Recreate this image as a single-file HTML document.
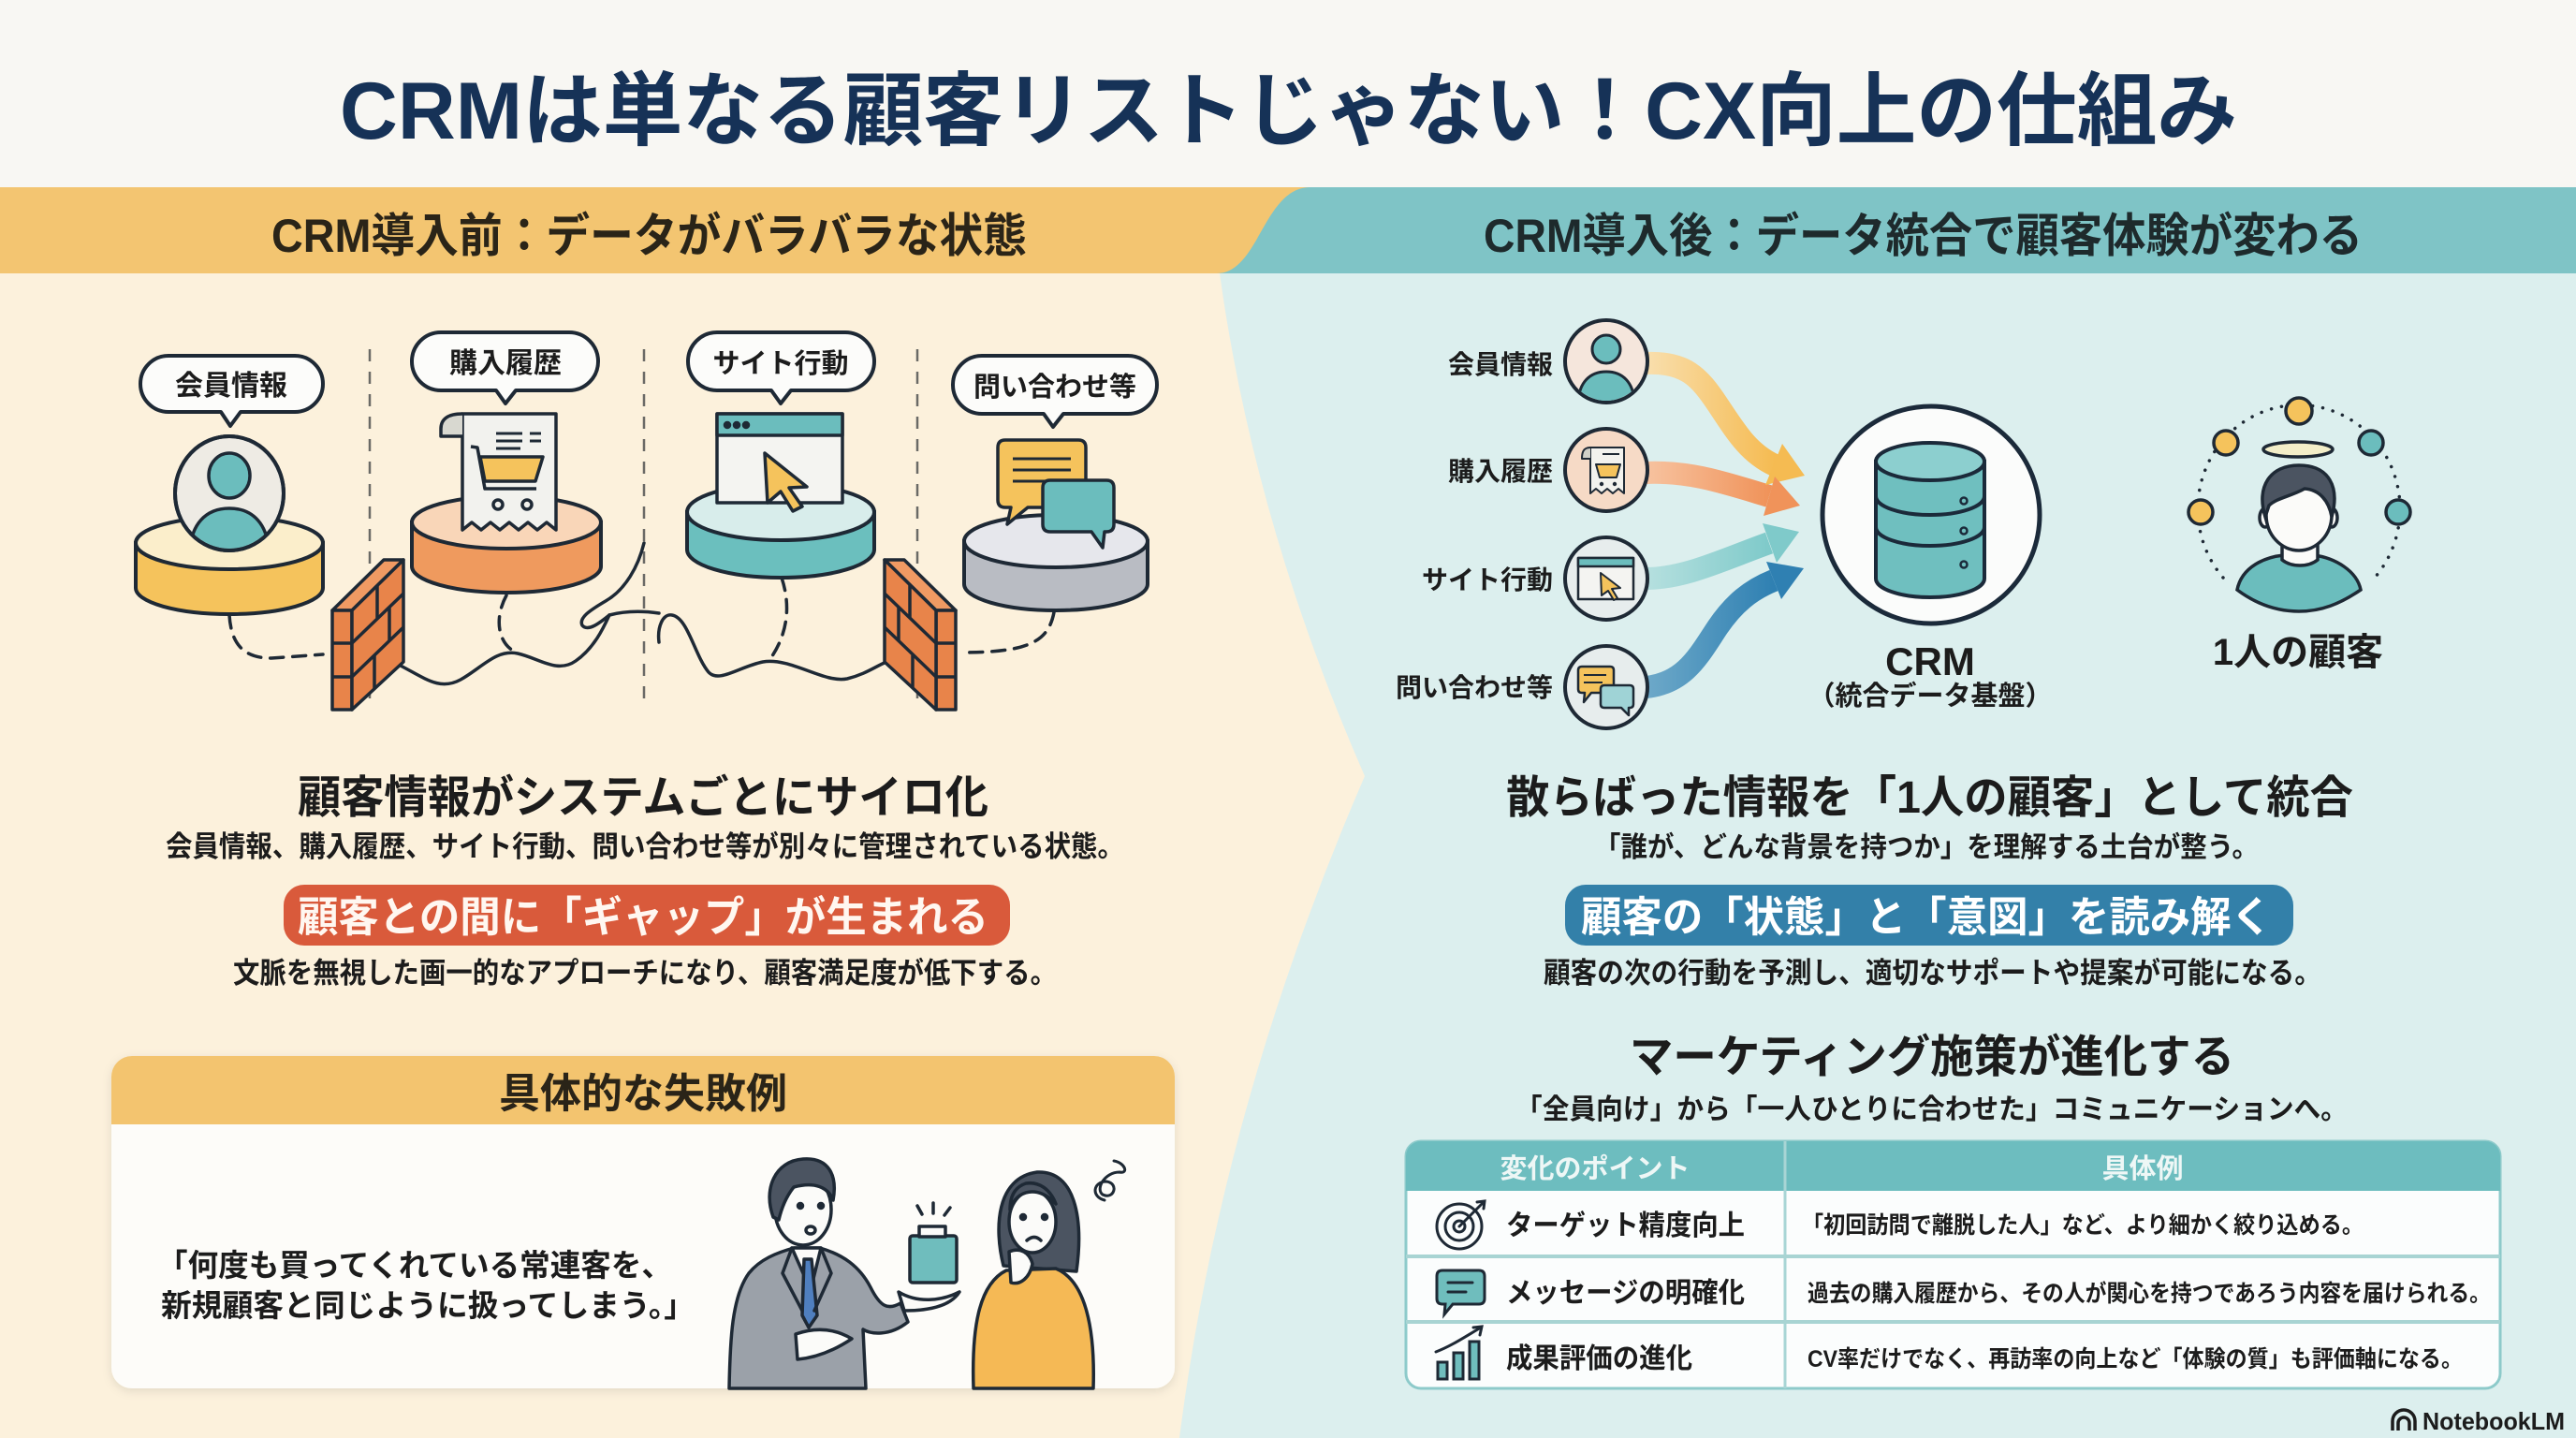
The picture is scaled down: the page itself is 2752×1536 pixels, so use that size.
<!DOCTYPE html>
<html><head><meta charset="utf-8">
<style>
html,body{margin:0;padding:0;width:2752px;height:1536px;overflow:hidden;background:#f8f7f3}
svg{display:block}
text{font-family:"Liberation Sans","Noto Sans CJK JP",sans-serif;font-weight:700;fill:#1c1c1c}
</style></head><body>
<svg width="2752" height="1536" viewBox="0 0 2752 1536" xmlns="http://www.w3.org/2000/svg">
<defs>
 <linearGradient id="gY" x1="0" x2="1" y1="0" y2="0"><stop offset="0" stop-color="#f9dfae"/><stop offset="1" stop-color="#f5bb52"/></linearGradient>
 <linearGradient id="gO" x1="0" x2="1" y1="0" y2="0"><stop offset="0" stop-color="#f7c3a0"/><stop offset="1" stop-color="#f0935a"/></linearGradient>
 <linearGradient id="gT" x1="0" x2="1" y1="0" y2="0"><stop offset="0" stop-color="#b6e0df"/><stop offset="1" stop-color="#7fcaca"/></linearGradient>
 <linearGradient id="gB" x1="0" x2="1" y1="0" y2="0"><stop offset="0" stop-color="#6ea9c9"/><stop offset="1" stop-color="#2f80b2"/></linearGradient>
 <clipPath id="c1"><circle cx="1716" cy="386" r="42"/></clipPath>
 <clipPath id="ava"><ellipse cx="245" cy="527" rx="56" ry="59"/></clipPath>
 <filter id="sh" x="-10%" y="-10%" width="120%" height="130%"><feDropShadow dx="0" dy="3" stdDeviation="5" flood-color="#000" flood-opacity="0.10"/></filter>
</defs>

<!-- backgrounds -->
<rect width="2752" height="1536" fill="#f8f7f3"/>
<rect x="0" y="292" width="2752" height="1244" fill="#dcefee"/>
<path d="M0,292 H1303 Q1340,560 1458,829 Q1305,1182 1260,1536 H0 Z" fill="#fcf1dc"/>
<rect x="0" y="200" width="2752" height="92" fill="#7fc4c6"/>
<path d="M0,200 H1400 C1350,200 1345,292 1300,292 H0 Z" fill="#f3c571"/>

<!-- title -->
<text x="363" y="148" font-size="86" textLength="2027" lengthAdjust="spacingAndGlyphs" style="fill:#163257">CRMは単なる顧客リストじゃない！CX向上の仕組み</text>
<text x="290" y="269" font-size="50" textLength="807" lengthAdjust="spacingAndGlyphs" style="fill:#2a2418">CRM導入前：データがバラバラな状態</text>
<text x="1585" y="269" font-size="50" textLength="939" lengthAdjust="spacingAndGlyphs" style="fill:#1e2a2c">CRM導入後：データ統合で顧客体験が変わる</text>

<!-- LEFT: dividers -->
<g stroke="#6a6a66" stroke-width="2.5" stroke-dasharray="13 11">
 <line x1="395" y1="373" x2="395" y2="757"/>
 <line x1="688" y1="373" x2="688" y2="757"/>
 <line x1="980" y1="373" x2="980" y2="757"/>
</g>

<!-- bubbles -->
<g fill="#fcfcfa" stroke="#1e2935" stroke-width="4" stroke-linejoin="round">
 <path d="M180,380 H315 A30,30 0 0 1 315,440 H257 L246,455 L236,440 H180 A30,30 0 0 1 180,380 Z"/>
 <path d="M471,355 H608 A31,31 0 0 1 608,417 H551 L540,431 L530,417 H471 A31,31 0 0 1 471,355 Z"/>
 <path d="M766,355 H903 A31,31 0 0 1 903,417 H845 L834,431 L824,417 H766 A31,31 0 0 1 766,355 Z"/>
 <path d="M1049,380 H1205 A31,31 0 0 1 1205,442 H1136 L1125,456 L1115,442 H1049 A31,31 0 0 1 1049,380 Z"/>
</g>
<text x="247" y="422" text-anchor="middle" font-size="30">会員情報</text>
<text x="540" y="398" text-anchor="middle" font-size="30">購入履歴</text>
<text x="834" y="398" text-anchor="middle" font-size="29">サイト行動</text>
<text x="1127" y="423" text-anchor="middle" font-size="29">問い合わせ等</text>

<!-- connector lines -->
<g fill="none" stroke="#1e2935" stroke-width="3.5" stroke-linecap="round">
 <path d="M245,657 C247,690 262,703 290,703 L345,699" stroke-dasharray="14 10"/>
 <path d="M541,636 C528,660 532,685 548,695" stroke-dasharray="14 10"/>
 <path d="M835,617 C846,650 840,680 822,705" stroke-dasharray="14 10"/>
 <path d="M1126,654 C1120,685 1100,697 1026,697" stroke-dasharray="14 10"/>
 <path d="M426,710 C455,725 470,738 492,726 S530,693 553,698 S595,720 615,706 S645,670 651,657"/>
 <path d="M688,580 C682,605 668,630 647,642 C630,652 618,660 622,668 C628,675 640,666 651,657 C670,652 690,653 704,655"/>
 <path d="M704,686 C702,670 708,655 718,657 C735,660 742,700 757,718 C768,730 790,712 815,707 C845,702 880,730 905,725 C925,720 935,712 947,707"/>
</g>

<!-- cylinders -->
<g stroke="#1e2935" stroke-width="4">
 <path d="M145,580 V628 A100,28 0 0 0 345,628 V580 Z" fill="#f5c35c"/>
 <ellipse cx="245" cy="580" rx="100" ry="28" fill="#fbeecb"/>
 <path d="M440,558 V605 A101,28 0 0 0 642,605 V558 Z" fill="#ef9a5e"/>
 <ellipse cx="541" cy="558" rx="101" ry="28" fill="#f9d6b8"/>
 <path d="M734,547 V587 A100,30 0 0 0 934,587 V547 Z" fill="#6bbfbe"/>
 <ellipse cx="834" cy="547" rx="100" ry="30" fill="#d8edeb"/>
 <path d="M1030,578 V624 A98,28 0 0 0 1226,624 V578 Z" fill="#b9bcc3"/>
 <ellipse cx="1128" cy="578" rx="98" ry="28" fill="#e6e7ec"/>
</g>

<!-- avatar -->
<g stroke="#1e2935" stroke-width="4">
 <ellipse cx="245" cy="527" rx="58" ry="61" fill="#eeebe4"/>
 <g clip-path="url(#ava)">
  <path d="M203,592 C203,560 220,543 245,543 C270,543 287,560 287,592 Z" fill="#6bbdbd" stroke-width="3.5"/>
 </g>
 <ellipse cx="245" cy="508" rx="22" ry="24" fill="#6bbdbd" stroke-width="3.5"/>
 <ellipse cx="245" cy="527" rx="58" ry="61" fill="none"/>
</g>

<!-- receipt -->
<g stroke="#1e2935" stroke-width="3.5" stroke-linejoin="round">
 <path d="M494,442 H594 V566 L584,558 L574,566 L564,558 L554,566 L544,558 L534,566 L524,558 L514,566 L504,558 L494,566 Z" fill="#f2f2ee"/>
 <path d="M494,442 C478,442 471,448 471,458 L471,466 L494,466" fill="#d8d8d0"/>
 <g stroke-width="3"><line x1="530" y1="463" x2="558" y2="463"/><line x1="566" y1="463" x2="578" y2="463"/><line x1="530" y1="471" x2="558" y2="471"/><line x1="566" y1="471" x2="578" y2="471"/><line x1="530" y1="479" x2="556" y2="479"/></g>
 <path d="M503,477 L510,478 L518,522 L573,522" fill="none"/>
 <polygon points="513,488 580,488 572,514 518,514" fill="#f5c35c"/>
 <circle cx="532" cy="539" r="5" fill="#f2f2ee"/><circle cx="563" cy="539" r="5" fill="#f2f2ee"/>
</g>

<!-- browser -->
<g stroke="#1e2935" stroke-width="3.5" stroke-linejoin="round">
 <rect x="766" y="442" width="134" height="95" fill="#f4f4f1"/>
 <rect x="766" y="442" width="134" height="23" fill="#6bbdbd"/>
 <circle cx="777" cy="454" r="2.5" fill="#1e2935"/><circle cx="787" cy="454" r="2.5" fill="#1e2935"/><circle cx="797" cy="454" r="2.5" fill="#1e2935"/>
 <polygon points="817,484 862,520 843,521 857,541 847,546 834,525 820,537" fill="#f5c35c"/>
</g>

<!-- chat -->
<g stroke="#1e2935" stroke-width="3.5" stroke-linejoin="round">
 <path d="M1074,470 H1152 Q1160,470 1160,478 V534 Q1160,542 1152,542 H1098 L1076,560 L1080,542 H1074 Q1066,542 1066,534 V478 Q1066,470 1074,470 Z" fill="#f5c35c"/>
 <g stroke-width="3"><line x1="1082" y1="490" x2="1144" y2="490"/><line x1="1082" y1="502" x2="1144" y2="502"/><line x1="1082" y1="514" x2="1118" y2="514"/></g>
 <path d="M1122,513 H1182 Q1190,513 1190,521 V560 Q1190,568 1182,568 H1180 L1178,585 L1166,568 H1122 Q1114,568 1114,560 V521 Q1114,513 1122,513 Z" fill="#6bbdbd"/>
</g>

<!-- brick walls -->
<g stroke="#1e2935" stroke-width="3.5" stroke-linejoin="round" fill="#e8844a">
 <polygon points="355,652 410,598 431,598 376,652" fill="#f09a63"/>
 <rect x="355" y="652" width="21" height="106"/>
 <polygon points="376,652 431,598 431,707 376,758"/>
 <line x1="355" y1="687" x2="376" y2="687"/><line x1="355" y1="723" x2="376" y2="723"/>
 <line x1="376" y1="687" x2="431" y2="634"/><line x1="376" y1="723" x2="431" y2="670"/>
 <line x1="403" y1="625" x2="403" y2="660"/><line x1="416" y1="648" x2="416" y2="684"/><line x1="400" y1="700" x2="400" y2="735"/>
 <polygon points="945,598 966,598 1021,652 1000,652" fill="#f09a63"/>
 <rect x="1000" y="652" width="21" height="106"/>
 <polygon points="945,598 1000,652 1000,758 945,707"/>
 <line x1="1000" y1="687" x2="1021" y2="687"/><line x1="1000" y1="723" x2="1021" y2="723"/>
 <line x1="945" y1="634" x2="1000" y2="687"/><line x1="945" y1="670" x2="1000" y2="723"/>
 <line x1="972" y1="625" x2="972" y2="660"/><line x1="960" y1="648" x2="960" y2="684"/><line x1="975" y1="700" x2="975" y2="735"/>
</g>

<!-- left texts -->
<text x="318" y="868" font-size="48" textLength="738" lengthAdjust="spacingAndGlyphs">顧客情報がシステムごとにサイロ化</text>
<text x="177" y="915" font-size="31" textLength="1024" lengthAdjust="spacingAndGlyphs">会員情報、購入履歴、サイト行動、問い合わせ等が別々に管理されている状態。</text>
<rect x="303" y="945" width="776" height="65" rx="22" fill="#d95a3b"/>
<text x="318" y="995" font-size="45" textLength="738" lengthAdjust="spacingAndGlyphs" style="fill:#fff7f0">顧客との間に「ギャップ」が生まれる</text>
<text x="249" y="1050" font-size="31" textLength="880" lengthAdjust="spacingAndGlyphs">文脈を無視した画一的なアプローチになり、顧客満足度が低下する。</text>

<!-- failure box -->
<g filter="url(#sh)">
 <rect x="119" y="1128" width="1136" height="355" rx="22" fill="#fdfcf9"/>
</g>
<path d="M141,1128 H1233 A22,22 0 0 1 1255,1150 V1201 H119 V1150 A22,22 0 0 1 141,1128 Z" fill="#f3c46f"/>
<text x="687" y="1183" text-anchor="middle" font-size="44" style="fill:#2a2418">具体的な失敗例</text>
<text x="168" y="1363" font-size="33" textLength="550" lengthAdjust="spacingAndGlyphs">「何度も買ってくれている常連客を、</text>
<text x="172" y="1406" font-size="33" textLength="570" lengthAdjust="spacingAndGlyphs">新規顧客と同じように扱ってしまう。」</text>

<!-- man -->
<g stroke="#1e2935" stroke-width="3.5" stroke-linejoin="round" stroke-linecap="round">
 <path d="M779,1483 C780,1430 782,1385 800,1360 C812,1345 830,1338 848,1333 L876,1333 C900,1340 918,1352 930,1375 C940,1395 948,1400 962,1392 L970,1412 C950,1428 930,1425 922,1420 L925,1483 Z" fill="#9ba1a9"/>
 <polygon points="846,1333 877,1333 866,1378" fill="#fbfbf9"/>
 <polygon points="859,1345 867,1345 873,1405 864,1418 857,1405" fill="#4f7fbf"/>
 <path d="M846,1333 L836,1360 L857,1400" fill="none"/>
 <path d="M877,1333 L888,1360 L870,1400" fill="none"/>
 <path d="M960,1380 C980,1392 1005,1390 1025,1380 C1015,1396 990,1400 966,1400 Z" fill="#fbfbf9"/>
 <path d="M850,1425 C870,1418 890,1418 910,1430 C895,1440 875,1450 852,1452 Z" fill="#fbfbf9"/>
 <ellipse cx="858" cy="1292" rx="30" ry="38" fill="#fbfbf9"/>
 <path d="M826,1300 C815,1270 828,1240 858,1238 C885,1236 895,1255 890,1282 C885,1268 870,1262 848,1268 C840,1278 835,1290 832,1303 Z" fill="#4b5461"/>
 <circle cx="855" cy="1288" r="2.5" fill="#1e2935"/><circle cx="877" cy="1288" r="2.5" fill="#1e2935"/>
 <ellipse cx="866" cy="1314" rx="5" ry="4" fill="#fbfbf9"/>
 <rect x="972" y="1320" width="50" height="50" rx="3" fill="#6fbdbd"/>
 <rect x="982" y="1310" width="28" height="11" fill="#fbfbf9"/>
 <line x1="980" y1="1288" x2="985" y2="1297"/><line x1="997" y1="1285" x2="997" y2="1296"/><line x1="1015" y1="1290" x2="1009" y2="1298"/>
</g>
<!-- woman -->
<g stroke="#1e2935" stroke-width="3.5" stroke-linejoin="round" stroke-linecap="round">
 <path d="M1072,1352 C1062,1312 1064,1258 1108,1252 C1148,1250 1158,1300 1150,1358 Z" fill="#4b5461"/>
 <path d="M1040,1483 C1038,1420 1045,1372 1075,1357 L1128,1355 C1160,1368 1170,1420 1168,1483 Z" fill="#f5b955"/>
 <ellipse cx="1103" cy="1305" rx="25" ry="33" fill="#fbfbf9"/>
 <path d="M1079,1292 C1086,1270 1110,1266 1128,1286 C1122,1270 1110,1262 1096,1264 C1084,1268 1079,1278 1079,1292 Z" fill="#4b5461"/>
 <circle cx="1093" cy="1300" r="2.5" fill="#1e2935"/><circle cx="1116" cy="1300" r="2.5" fill="#1e2935"/>
 <path d="M1097,1325 Q1105,1318 1112,1325" fill="none"/>
 <path d="M1078,1337 C1090,1332 1100,1338 1103,1350 C1100,1365 1090,1373 1080,1370 Z" fill="#fbfbf9"/>
 <path d="M1180,1282 C1165,1278 1168,1262 1182,1262 C1196,1264 1190,1282 1178,1276 C1170,1270 1180,1252 1196,1252 C1206,1254 1202,1242 1190,1240" fill="none" stroke-width="3"/>
</g>

<!-- RIGHT: labels -->
<text x="1659" y="399" text-anchor="end" font-size="28">会員情報</text>
<text x="1659" y="513" text-anchor="end" font-size="28">購入履歴</text>
<text x="1659" y="629" text-anchor="end" font-size="28">サイト行動</text>
<text x="1659" y="744" text-anchor="end" font-size="28">問い合わせ等</text>

<!-- arrows -->
<g fill="none" stroke-width="24">
 <path d="M1758,388 C1800,386 1815,402 1835,432 C1855,462 1868,484 1896,497" stroke="url(#gY)"/>
 <path d="M1758,505 C1805,503 1840,515 1890,530" stroke="url(#gO)"/>
 <path d="M1758,618 C1800,618 1840,598 1890,580" stroke="url(#gT)"/>
 <path d="M1758,734 C1800,730 1815,700 1835,670 C1852,645 1870,630 1895,620" stroke="url(#gB)"/>
</g>
<polygon points="1928,508 1904,474 1886,518" fill="#f5bb52"/>
<polygon points="1923,540 1896,509 1884,551" fill="#f0935a"/>
<polygon points="1922,568 1883,559 1898,601" fill="#7fcaca"/>
<polygon points="1927,607 1887,600 1903,640" fill="#2f80b2"/>

<!-- source circles -->
<g stroke="#1e2935" stroke-width="4">
 <circle cx="1716" cy="386" r="44" fill="#f5e6dc"/>
 <circle cx="1716" cy="502" r="44" fill="#f6dac6"/>
 <circle cx="1716" cy="618" r="44" fill="#e7eded"/>
 <circle cx="1716" cy="734" r="44" fill="#e7eded"/>
</g>
<g stroke="#1e2935" stroke-width="3" stroke-linejoin="round">
 <g clip-path="url(#c1)"><path d="M1686,432 C1686,408 1699,397 1716,397 C1733,397 1746,408 1746,432 Z" fill="#6bbdbd"/></g>
 <circle cx="1716" cy="373" r="15" fill="#6bbdbd"/>
 <path d="M1699,478 H1735 V527 L1729,522 L1723,527 L1717,522 L1711,527 L1705,522 L1699,527 Z" fill="#f2f2ee" stroke-width="2"/>
 <path d="M1699,478 C1691,478 1690,484 1690,490 L1699,490" fill="#d0d0c8" stroke-width="2"/>
 <polygon points="1705,496 1731,496 1727,510 1709,510" fill="#f5c35c" stroke-width="2"/>
 <line x1="1712" y1="485" x2="1730" y2="485" stroke-width="2"/>
 <circle cx="1711" cy="517" r="2.2" fill="#1e2935" stroke="none"/><circle cx="1725" cy="517" r="2.2" fill="#1e2935" stroke="none"/>
 <rect x="1686" y="596" width="59" height="44" fill="#f4f4f1" stroke-width="2.5"/>
 <rect x="1686" y="596" width="59" height="9" fill="#6bbdbd" stroke-width="2.5"/>
 <polygon points="1710,612 1731,628 1722,629 1728,639 1724,641 1718,631 1711,636" fill="#f5c35c" stroke-width="2"/>
 <path d="M1690,712 H1720 Q1724,712 1724,716 V736 Q1724,740 1720,740 H1700 L1692,750 L1693,740 H1690 Q1686,740 1686,736 V716 Q1686,712 1690,712 Z" fill="#f5c35c" stroke-width="2.5"/>
 <line x1="1692" y1="721" x2="1716" y2="721" stroke-width="2"/><line x1="1692" y1="729" x2="1712" y2="729" stroke-width="2"/>
 <path d="M1714,732 H1741 Q1745,732 1745,736 V752 Q1745,756 1741,756 H1740 L1740,764 L1732,756 H1714 Q1710,756 1710,752 V736 Q1710,732 1714,732 Z" fill="#9fd3d6" stroke-width="2.5"/>
</g>

<!-- CRM -->
<circle cx="2063" cy="550" r="116" fill="#fbfcfb" stroke="#1b2a3a" stroke-width="5"/>
<g stroke="#1b2a3a" stroke-width="4">
 <path d="M2004,493 V618 A58,20 0 0 0 2120,618 V493 Z" fill="#6fbfbf"/>
 <path d="M2004,530 A58,20 0 0 0 2120,530" fill="none"/>
 <path d="M2004,563 A58,20 0 0 0 2120,563" fill="none"/>
 <ellipse cx="2062" cy="493" rx="58" ry="20" fill="#8ccfcf"/>
 <circle cx="2098" cy="535" r="3.5" fill="none" stroke-width="2.5"/>
 <circle cx="2098" cy="567" r="3.5" fill="none" stroke-width="2.5"/>
 <circle cx="2098" cy="603" r="3.5" fill="none" stroke-width="2.5"/>
</g>
<text x="2062" y="721" text-anchor="middle" font-size="42">CRM</text>
<text x="2062" y="753" text-anchor="middle" font-size="29">（統合データ基盤）</text>

<!-- one customer -->
<path d="M2375,617 A108,111 0 1 1 2537,617" fill="none" stroke="#1e2935" stroke-width="3.5" stroke-dasharray="0.1 11" stroke-linecap="round"/>
<g stroke="#1e2935" stroke-width="3.5">
 <circle cx="2456" cy="439" r="14" fill="#f5c35c"/>
 <circle cx="2378" cy="473" r="13" fill="#f5c35c"/>
 <circle cx="2533" cy="473" r="13" fill="#6bbdbd"/>
 <circle cx="2351" cy="547" r="13" fill="#f5c35c"/>
 <circle cx="2562" cy="547" r="13" fill="#6bbdbd"/>
 <ellipse cx="2455" cy="480" rx="37" ry="8" fill="#f3eec8"/>
 <path d="M2390,630 C2395,605 2420,595 2440,593 L2472,593 C2495,596 2518,610 2522,630 C2500,645 2480,653 2456,653 C2432,653 2410,645 2390,630 Z" fill="#6bbdbd"/>
 <path d="M2438,580 L2438,598 C2448,606 2466,606 2476,598 L2476,580 Z" fill="#fbfbf9"/>
 <ellipse cx="2420" cy="553" rx="6" ry="10" fill="#fbfbf9"/>
 <ellipse cx="2491" cy="553" rx="6" ry="10" fill="#fbfbf9"/>
 <ellipse cx="2456" cy="550" rx="35" ry="38" fill="#fbfbf9"/>
 <path d="M2420,552 C2410,520 2425,497 2456,497 C2488,497 2500,520 2491,552 C2488,535 2478,523 2462,522 C2448,530 2432,532 2424,540 Z" fill="#4b5461"/>
</g>
<text x="2455" y="710" text-anchor="middle" font-size="40">1人の顧客</text>

<!-- right texts -->
<text x="1609" y="868" font-size="48" textLength="905" lengthAdjust="spacingAndGlyphs">散らばった情報を「1人の顧客」として統合</text>
<text x="1703" y="915" font-size="30" textLength="710" lengthAdjust="spacingAndGlyphs">「誰が、どんな背景を持つか」を理解する土台が整う。</text>
<rect x="1672" y="945" width="778" height="65" rx="22" fill="#3380a9"/>
<text x="1689" y="995" font-size="45" textLength="738" lengthAdjust="spacingAndGlyphs" style="fill:#ffffff">顧客の「状態」と「意図」を読み解く</text>
<text x="1649" y="1050" font-size="31" textLength="831" lengthAdjust="spacingAndGlyphs">顧客の次の行動を予測し、適切なサポートや提案が可能になる。</text>
<text x="1741" y="1145" font-size="48" textLength="646" lengthAdjust="spacingAndGlyphs">マーケティング施策が進化する</text>
<text x="1619" y="1195" font-size="30" textLength="889" lengthAdjust="spacingAndGlyphs">「全員向け」から「一人ひとりに合わせた」コミュニケーションへ。</text>

<!-- table -->
<rect x="1502" y="1219" width="1169" height="264" rx="16" fill="#fbfdfd" stroke="#8dcaca" stroke-width="3"/>
<path d="M1518,1219 H2655 A16,16 0 0 1 2671,1235 V1272 H1502 V1235 A16,16 0 0 1 1518,1219 Z" fill="#6dbdbf"/>
<line x1="1907" y1="1219" x2="1907" y2="1483" stroke="#a8d5d5" stroke-width="3"/>
<line x1="1502" y1="1342" x2="2671" y2="1342" stroke="#a8d4d3" stroke-width="4"/>
<line x1="1502" y1="1412" x2="2671" y2="1412" stroke="#a8d4d3" stroke-width="4"/>
<text x="1704" y="1258" text-anchor="middle" font-size="29" style="fill:#eef7f6">変化のポイント</text>
<text x="2289" y="1258" text-anchor="middle" font-size="29" style="fill:#eef7f6">具体例</text>
<!-- table icons -->
<g stroke="#1e2935" stroke-width="3" fill="none" stroke-linecap="round">
 <circle cx="1559" cy="1310" r="24"/><circle cx="1559" cy="1310" r="15"/><circle cx="1559" cy="1310" r="6"/>
 <line x1="1559" y1="1310" x2="1585" y2="1284"/>
 <path d="M1578,1284 L1586,1283 L1585,1291"/>
 <path d="M1541,1357 H1580 Q1586,1357 1586,1363 V1387 Q1586,1393 1580,1393 H1552 L1543,1404 L1544,1393 H1541 Q1535,1393 1535,1387 V1363 Q1535,1357 1541,1357 Z" fill="#6fbdbd"/>
 <line x1="1547" y1="1370" x2="1573" y2="1370"/><line x1="1547" y1="1380" x2="1566" y2="1380"/>
 <rect x="1536" y="1455" width="10" height="18" fill="#6fbdbd"/>
 <rect x="1553" y="1445" width="10" height="28" fill="#6fbdbd"/>
 <rect x="1570" y="1433" width="10" height="40" fill="#6fbdbd"/>
 <path d="M1534,1444 C1550,1438 1565,1428 1582,1418"/>
 <path d="M1574,1418 L1583,1417 L1581,1426"/>
</g>
<text x="1609" y="1319" font-size="30" textLength="255" lengthAdjust="spacingAndGlyphs">ターゲット精度向上</text>
<text x="1609" y="1391" font-size="30" textLength="255" lengthAdjust="spacingAndGlyphs">メッセージの明確化</text>
<text x="1609" y="1461" font-size="30" textLength="199" lengthAdjust="spacingAndGlyphs">成果評価の進化</text>
<text x="1925" y="1317" font-size="25" textLength="600" lengthAdjust="spacingAndGlyphs">「初回訪問で離脱した人」など、より細かく絞り込める。</text>
<text x="1931" y="1390" font-size="25" textLength="730" lengthAdjust="spacingAndGlyphs">過去の購入履歴から、その人が関心を持つであろう内容を届けられる。</text>
<text x="1931" y="1460" font-size="25" textLength="700" lengthAdjust="spacingAndGlyphs">CV率だけでなく、再訪率の向上など「体験の質」も評価軸になる。</text>

<!-- NotebookLM -->
<g fill="none" stroke="#1c1c1c" stroke-width="3.5">
 <path d="M2556,1528 V1518 A12,12 0 0 1 2580,1518 V1528"/>
 <path d="M2562,1528 V1520 A6,6 0 0 1 2574,1520 V1528"/>
</g>
<text x="2588" y="1527" font-size="26" textLength="152" lengthAdjust="spacingAndGlyphs">NotebookLM</text>
</svg>
</body></html>
